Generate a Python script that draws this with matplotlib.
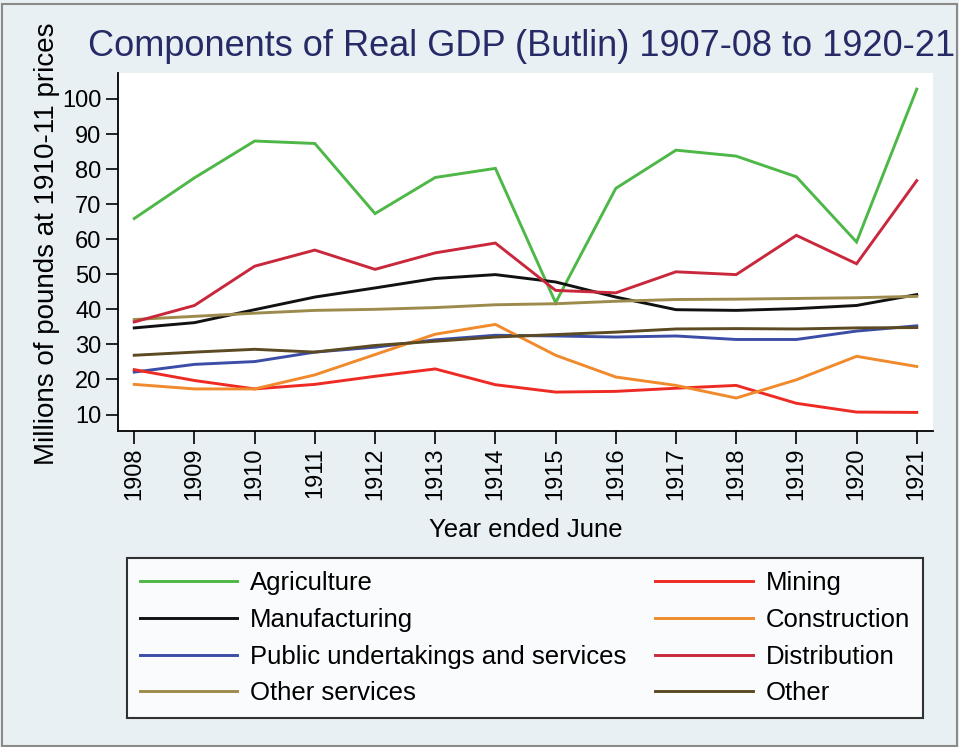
import matplotlib
matplotlib.use("Agg")
import matplotlib.pyplot as plt
from matplotlib.patches import Rectangle

plt.rcParams['font.family'] = ['Liberation Sans', 'DejaVu Sans']

years = [1908, 1909, 1910, 1911, 1912, 1913, 1914, 1915, 1916, 1917, 1918, 1919, 1920, 1921]

agriculture = [65.9, 77.5, 88.0, 87.3, 67.3, 77.6, 80.2, 41.9, 74.5, 85.4, 83.7, 77.8, 59.2, 102.8]
manufacturing = [34.7, 36.2, 39.9, 43.5, 46.1, 48.8, 49.9, 47.8, 43.5, 39.9, 39.7, 40.2, 41.1, 44.2]
public_services = [22.1, 24.3, 25.1, 27.8, 29.2, 31.3, 32.6, 32.4, 32.1, 32.4, 31.4, 31.4, 33.8, 35.3]
other_services = [37.1, 38.0, 38.9, 39.7, 40.0, 40.5, 41.3, 41.6, 42.3, 42.8, 42.9, 43.1, 43.3, 43.7]
mining = [22.8, 19.7, 17.3, 18.6, 20.9, 23.0, 18.5, 16.4, 16.6, 17.5, 18.3, 13.2, 10.7, 10.6]
construction = [18.6, 17.3, 17.3, 21.3, 27.1, 32.9, 35.7, 26.9, 20.7, 18.3, 14.7, 19.9, 26.6, 23.7]
distribution = [36.4, 41.1, 52.3, 56.9, 51.4, 56.1, 58.9, 45.4, 44.7, 50.7, 49.9, 61.1, 53.0, 76.7]
other = [26.9, 27.8, 28.6, 27.8, 29.7, 30.9, 32.1, 32.8, 33.5, 34.4, 34.5, 34.4, 34.7, 34.8]

series = [
    ("Agriculture", agriculture, "#4db847"),
    ("Manufacturing", manufacturing, "#111111"),
    ("Public undertakings and services", public_services, "#3b4da6"),
    ("Other services", other_services, "#9c8b4c"),
    ("Mining", mining, "#ee2a24"),
    ("Construction", construction, "#f08a2c"),
    ("Distribution", distribution, "#c9283c"),
    ("Other", other, "#5b4a22"),
]

yticks = [10, 20, 30, 40, 50, 60, 70, 80, 90, 100]

W, H = 959, 747
fig = plt.figure(figsize=(W / 100, H / 100), dpi=100)
fig.patch.set_facecolor("#e8f0f3")
fig.patches.append(Rectangle((0.002, 0.002), 0.996, 0.993, transform=fig.transFigure,
                             fill=False, edgecolor="#8a8a8a", linewidth=1.5))

ax = fig.add_axes([118 / W, 1 - 431 / H, (933 - 118) / W, (431 - 73) / H])
ax.set_facecolor("white")

handles = []
for name, vals, col in series:
    h, = ax.plot(years, vals, color=col, linewidth=2.1, label=name, solid_joinstyle="miter")
    handles.append(h)

ax.set_xlim(1907.73, 1921.27)
ax.set_ylim(5.3, 107.4)
ax.set_xticks(years)
ax.set_xticklabels([str(y) for y in years], rotation=90)
ax.set_yticks(yticks)
for s in ["top", "right"]:
    ax.spines[s].set_visible(False)
for s in ["left", "bottom"]:
    ax.spines[s].set_linewidth(1.3)
ax.tick_params(axis="both", direction="out", length=9, width=1.2, labelsize=17, pad=3)

ax.set_ylabel("Millions of pounds at 1910-11 prices", fontsize=20)
ax.yaxis.set_label_coords(-0.071, 0.522)
ax.set_xlabel("Year ended June", fontsize=18.5, labelpad=13)

fig.text(88 / W, 1 - 46 / H, "Components of Real GDP (Butlin) 1907-08 to 1920-21",
         fontsize=26, color="#262a66", va="center", ha="left")

leg = fig.legend(handles=handles, loc="upper left", ncol=2, mode="expand",
                 bbox_to_anchor=(127 / W, 0, (923 - 127) / W, 1 - 558 / H),
                 bbox_transform=fig.transFigure,
                 fontsize=18.5, frameon=True, fancybox=False, handlelength=3.8,
                 handletextpad=0.5, labelspacing=0.5, borderpad=0.5, borderaxespad=0)
leg.get_frame().set_edgecolor("black")
leg.get_frame().set_linewidth(1.5)
leg.get_frame().set_facecolor("white")

fig.savefig("out.png", dpi=100, facecolor=fig.get_facecolor())
